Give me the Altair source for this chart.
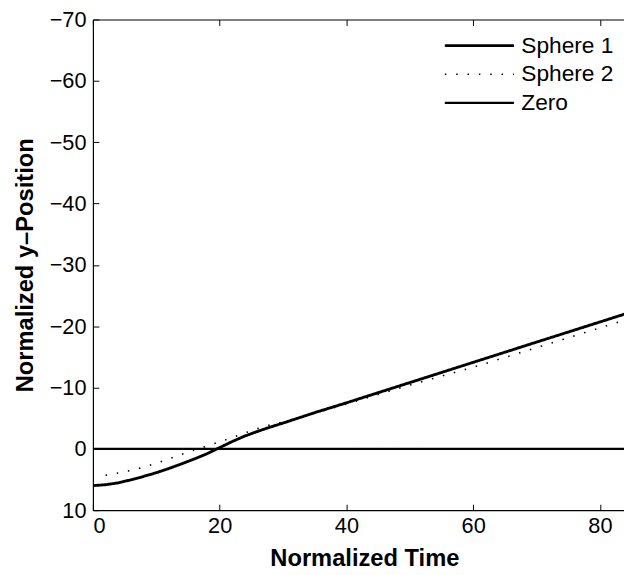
import altair as alt
import pandas as pd

series_names = ["Sphere 1", "Sphere 2", "Zero"]

s1_t = [0, 2, 4, 6, 8, 10, 12, 14, 16, 18, 20, 22, 24, 26, 28, 30, 35, 40, 50, 60, 70, 84]
s1_y = [6.0, 5.85, 5.55, 5.05, 4.5, 3.9, 3.2, 2.45, 1.65, 0.8, -0.2, -1.2, -2.1, -2.85, -3.55, -4.2, -5.9, -7.5, -10.8, -14.1, -17.4, -22.0]

s2_t = [2, 4, 6, 8, 10, 12, 14, 16, 18, 20, 22, 24, 26, 28, 30, 35, 40, 50, 60, 70, 84]
s2_y = [4.3, 3.95, 3.5, 3.0, 2.35, 1.65, 0.9, 0.2, -0.45, -1.15, -1.85, -2.6, -3.3, -3.9, -4.4, -5.8, -7.3, -10.4, -13.3, -16.5, -21.0]

zero_t = [0, 84]
zero_y = [0, 0]

x_ticks = [0, 20, 40, 60, 80]
y_ticks = [-70, -60, -50, -40, -30, -20, -10, 0, 10]

rows = []
for name, ts, ys in [("Sphere 1", s1_t, s1_y), ("Sphere 2", s2_t, s2_y), ("Zero", zero_t, zero_y)]:
    for t, y in zip(ts, ys):
        rows.append({"series": name, "t": t, "y": y})
df = pd.DataFrame(rows)

FONT = "Liberation Sans"
xs = alt.Scale(domain=[0, 83.8], nice=False, zero=False)
ys = alt.Scale(domain=[-70, 10], reverse=True, nice=False, zero=False)

base = alt.Chart(df)

lines = base.mark_line(color="black", strokeCap="butt", clip=True).encode(
    x=alt.X("t:Q", scale=xs, axis=alt.Axis(
        orient="bottom", values=x_ticks, title="Normalized Time", ticks=False,
        domain=True, domainColor="black", domainWidth=1.2, grid=False,
        labelFont=FONT, labelFontSize=22, labelColor="black", labelPadding=6,
        titleFont=FONT, titleFontSize=24, titleFontWeight="bold", titleColor="black", titlePadding=10,
        titleX=275)),
    y=alt.Y("y:Q", scale=ys, axis=alt.Axis(
        orient="left", values=y_ticks, title="Normalized y–Position", ticks=False,
        domain=True, domainColor="black", domainWidth=1.2, grid=False,
        labelFont=FONT, labelFontSize=22, labelColor="black", labelPadding=7,
        titleFont=FONT, titleFontSize=24, titleFontWeight="bold", titleColor="black", titlePadding=12)),
    strokeDash=alt.StrokeDash("series:N", scale=alt.Scale(domain=series_names, range=[[1, 0], [1.5, 10], [1, 0]]),
        legend=alt.Legend(title=None, orient="none", legendX=380, legendY=15,
                          symbolType="M-7,0H7", symbolSize=100, symbolStrokeColor="black",
                          symbolFillColor="transparent", symbolStrokeWidth=2,
                          labelFont=FONT, labelFontSize=23, labelColor="black",
                          labelOffset=31, rowPadding=5)),
    strokeWidth=alt.StrokeWidth("series:N", scale=alt.Scale(type="ordinal", domain=series_names, range=[2.9, 1.6, 2.2]), legend=None),
    detail="series:N",
)

ticks_in = base.mark_point(opacity=0).encode(
    x=alt.X("t:Q", scale=xs, axis=alt.Axis(orient="bottom", offset=-6, values=x_ticks, domain=False,
                                           labels=False, title=None, ticks=True, tickSize=6,
                                           tickColor="black", tickWidth=1, grid=False)),
    y=alt.Y("y:Q", scale=ys, axis=alt.Axis(orient="left", offset=-6, values=y_ticks, domain=False,
                                           labels=False, title=None, ticks=True, tickSize=6,
                                           tickColor="black", tickWidth=1, grid=False)),
)

top_dom = base.mark_point(opacity=0).encode(
    x=alt.X("t:Q", scale=xs, axis=alt.Axis(orient="top", values=x_ticks, domain=True, domainColor="black",
                                           domainWidth=1.2, labels=False, title=None, ticks=False, grid=False)),
    y=alt.Y("y:Q", scale=ys, axis=None),
)

top_ticks = base.mark_point(opacity=0).encode(
    x=alt.X("t:Q", scale=xs, axis=alt.Axis(orient="top", offset=-6, values=x_ticks, domain=False,
                                           labels=False, title=None, ticks=True, tickSize=6,
                                           tickColor="black", tickWidth=1, grid=False)),
    y=alt.Y("y:Q", scale=ys, axis=None),
)

chart = alt.layer(lines, ticks_in, top_dom, top_ticks).resolve_axis(
    x="independent", y="independent"
).properties(
    width=538, height=497,
    autosize=alt.AutoSizeParams(type="none"),
    padding={"left": 86, "top": 8, "right": 0, "bottom": 62},
    background="white",
).configure_view(stroke=None)

chart.save("out.html", embed_options={"renderer": "svg", "actions": False})
